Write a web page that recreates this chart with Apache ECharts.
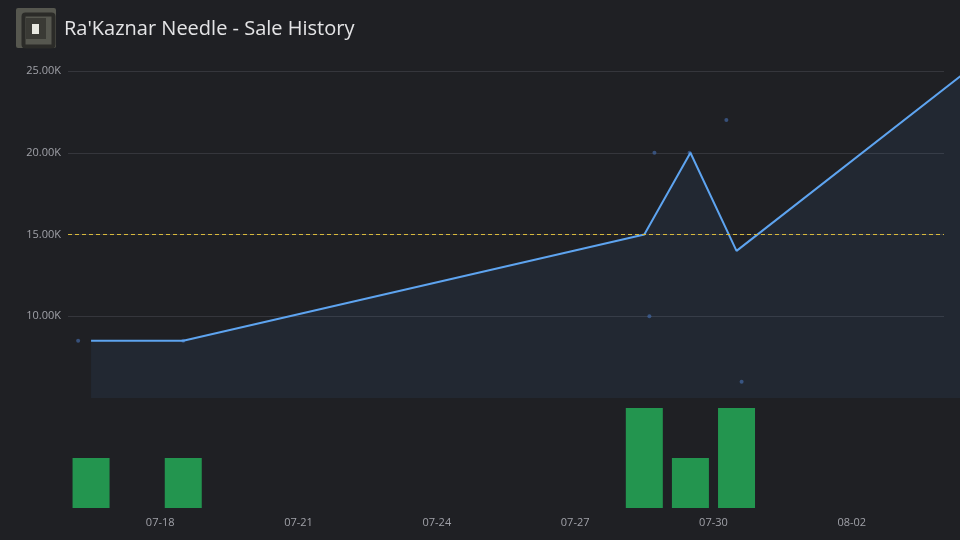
<!DOCTYPE html>
<html>
<head>
<meta charset="utf-8">
<script src="https://cdn.jsdelivr.net/npm/echarts@6/dist/echarts.min.js"></script>
<style>
  html, body { margin: 0; padding: 0; background: #1f2024; }
  #echart { width: 960px; height: 540px; }
</style>
</head>
<body>
<div id="echart"></div>
<script>
// x values are days of July (32 = 08-01)
var tickDays = [18, 21, 24, 27, 30, 33];
var tickLabels = ['07-18', '07-21', '07-24', '07-27', '07-30', '08-02'];

// single sales
var saleDays = [16.22, 18.5, 28.61, 28.72, 29.48, 30.28, 30.61];
var salePrices = [8500, 8500, 10000, 20000, 20000, 22000, 6000];

// daily average price line (last point = current price)
var avgDays = [16.5, 18.5, 28.5, 29.5, 30.5, 35.5];
var avgPrices = [8500, 8500, 15000, 20000, 14000, 25000];

// sales per day
var countDays = [16.5, 18.5, 28.5, 29.5, 30.5];
var counts = [1, 1, 2, 1, 2];

var refPrice = 15000;

var dayMin = 16, dayMax = 35;

function zip(a, b) {
    return a.map(function (v, i) { return [v, b[i]]; });
}

var chartDom = document.getElementById('echart');
var myChart = echarts.init(chartDom);

var labelColor = '#a0a1a8';
var font = 'Open Sans';

// the price line runs on past the grid edge, up to the page border
var gridLeft = 68, gridRight = 16;
var pxPerDay = (960 - gridLeft - gridRight) / (dayMax - dayMin);
var lineMax = dayMin + (960 - gridLeft) / pxPerDay;

var hidden = {
    axisLine: { show: false }, axisTick: { show: false },
    axisLabel: { show: false }, splitLine: { show: false }
};

var option = {
    backgroundColor: '#1f2024',
    animation: false,
    textStyle: { fontFamily: font },
    graphic: [
        // item icon
        { type: 'rect', left: 16, top: 8, shape: { width: 40, height: 40, r: 2 }, style: { fill: '#56574f' } },
        { type: 'rect', left: 21, top: 12, shape: { width: 30, height: 32, r: 2 }, style: { fill: 'none', stroke: '#2b2b28', lineWidth: 4 } },
        { type: 'rect', left: 26, top: 18, shape: { width: 20, height: 21 }, style: { fill: '#3a3a35' } },
        { type: 'rect', left: 32, top: 24, shape: { width: 7, height: 10 }, style: { fill: '#e8e8e0' } },
        {
            type: 'text', left: 64, top: 19,
            style: { text: "Ra'Kaznar Needle - Sale History", fill: '#e4e4e6', fontSize: 20, fontFamily: font }
        }
    ],
    grid: [
        { left: gridLeft, right: gridRight, top: 71, bottom: 142 },
        { left: gridLeft, right: gridRight, top: 408, bottom: 32 },
        { left: gridLeft, right: 0, top: 71, bottom: 142 }
    ],
    xAxis: [
        Object.assign({ type: 'value', gridIndex: 0, min: dayMin, max: dayMax }, hidden),
        {
            type: 'value', gridIndex: 1, min: dayMin, max: dayMax,
            axisLine: { show: false }, axisTick: { show: false },
            splitLine: { show: false },
            axisLabel: {
                customValues: tickDays,
                color: labelColor, fontSize: 11, margin: 9,
                formatter: function (v) {
                    var i = tickDays.indexOf(v);
                    return i >= 0 ? tickLabels[i] : '';
                }
            }
        },
        Object.assign({ type: 'value', gridIndex: 2, min: dayMin, max: lineMax }, hidden)
    ],
    yAxis: [
        {
            type: 'value', gridIndex: 0, min: 5000, max: 25000, interval: 5000,
            axisLine: { show: false }, axisTick: { show: false },
            axisLabel: {
                showMinLabel: false, color: labelColor, fontSize: 11, margin: 7,
                formatter: function (v) { return (v / 1000).toFixed(2) + 'K'; }
            },
            splitLine: { showMinLine: false, lineStyle: { color: '#35363c', width: 1 } }
        },
        Object.assign({ type: 'value', gridIndex: 1, min: 0, max: 2 }, hidden),
        Object.assign({ type: 'value', gridIndex: 2, min: 5000, max: 25000 }, hidden)
    ],
    series: [
        {
            name: 'Average',
            type: 'line',
            xAxisIndex: 2, yAxisIndex: 2,
            data: zip(avgDays, avgPrices),
            showSymbol: false,
            lineStyle: { color: '#5ea4f0', width: 2 },
            itemStyle: { color: '#5ea4f0' },
            areaStyle: { color: 'rgba(84,150,240,0.1)' },
            z: 2
        },
        {
            name: 'Sales',
            type: 'scatter',
            xAxisIndex: 0, yAxisIndex: 0,
            data: zip(saleDays, salePrices),
            symbolSize: 4,
            itemStyle: { color: '#3d5d90' },
            markLine: {
                silent: true,
                symbol: 'none',
                label: { show: false },
                lineStyle: { color: '#d8b93c', type: [4, 3], width: 1 },
                data: [{ yAxis: refPrice }]
            },
            z: 1
        },
        {
            name: 'Count',
            type: 'bar',
            xAxisIndex: 1, yAxisIndex: 1,
            data: zip(countDays, counts),
            barWidth: 37,
            itemStyle: { color: '#23954f' }
        }
    ]
};

myChart.setOption(option);

window.addEventListener('resize', function () {
    myChart.resize();
});
</script>
</body>
</html>
